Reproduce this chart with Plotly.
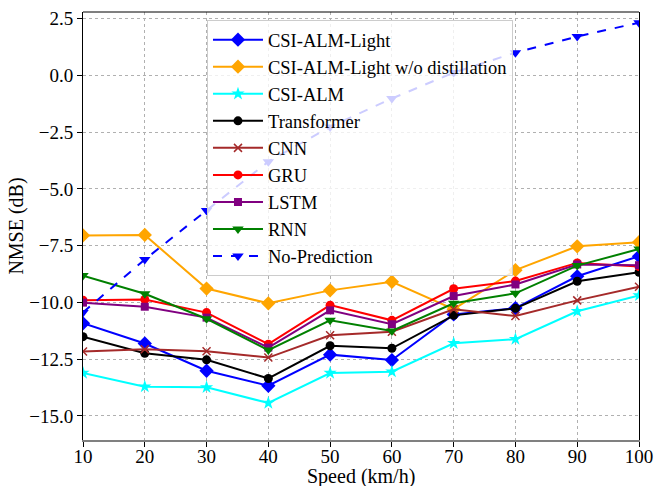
import plotly.graph_objects as go

speeds = [10, 20, 30, 40, 50, 60, 70, 80, 90, 100]

csi_alm_light = [-10.92, -11.81, -13.01, -13.67, -12.30, -12.54, -10.53, -10.25, -8.85, -7.97]
csi_alm_light_wo = [-7.05, -7.03, -9.39, -10.04, -9.47, -9.09, -10.30, -8.58, -7.53, -7.35]
csi_alm = [-13.11, -13.71, -13.74, -14.43, -13.11, -13.05, -11.80, -11.62, -10.39, -9.69]
transformer = [-11.51, -12.24, -12.53, -13.35, -11.91, -12.02, -10.57, -10.26, -9.07, -8.67]
cnn = [-12.16, -12.06, -12.15, -12.43, -11.45, -11.29, -10.30, -10.60, -9.91, -9.31]
gru = [-9.90, -9.87, -10.45, -11.84, -10.12, -10.79, -9.40, -9.06, -8.26, -8.42]
lstm = [-10.01, -10.19, -10.67, -11.99, -10.35, -10.96, -9.72, -9.21, -8.33, -8.36]
rnn = [-8.82, -9.62, -10.72, -12.10, -10.79, -11.26, -10.04, -9.60, -8.38, -7.65]
no_pred = [-10.44, -8.11, -5.95, -3.80, -2.27, -1.02, 0.12, 1.00, 1.71, 2.32]

y_ticks = [-15, -12.5, -10, -7.5, -5, -2.5, 0, 2.5]
x_title = "Speed (km/h)"
y_title = "NMSE (dB)"

series = [
    ("CSI-ALM-Light", csi_alm_light, "#0000ff", "diamond", "solid", 11),
    ("CSI-ALM-Light w/o distillation", csi_alm_light_wo, "#ffa500", "diamond", "solid", 11),
    ("CSI-ALM", csi_alm, "#00ffff", "star", "solid", 10),
    ("Transformer", transformer, "#000000", "circle", "solid", 9),
    ("CNN", cnn, "#a52a2a", "x-thin-open", "solid", 8),
    ("GRU", gru, "#ff0000", "circle", "solid", 9),
    ("LSTM", lstm, "#800080", "square", "solid", 8),
    ("RNN", rnn, "#008000", "triangle-down", "solid", 10),
    ("No-Prediction", no_pred, "#0000ff", "triangle-down", "dash", 10),
]

fig = go.Figure()
for name, vals, color, sym, dash, size in series:
    fig.add_trace(go.Scatter(
        x=speeds, y=vals, name=name, mode="lines+markers",
        line=dict(color=color, width=2, dash=dash),
        marker=dict(symbol=sym, size=size, color=color,
                    line=dict(color=color, width=1.5 if sym == "x-thin-open" else 0)),
    ))

font_family = "Liberation Serif, Times New Roman, serif"
fig.update_layout(
    width=654, height=486,
    margin=dict(l=83, r=15, t=12, b=46, autoexpand=False),
    paper_bgcolor="white", plot_bgcolor="white",
    font=dict(family=font_family, size=19, color="black"),
    showlegend=True,
    legend=dict(
        x=0.223, y=0.981, xanchor="left", yanchor="top",
        bgcolor="rgba(255,255,255,0.8)", bordercolor="#cccccc", borderwidth=1,
        font=dict(family=font_family, size=18.5, color="black"),
        itemwidth=50, tracegroupgap=0,
    ),
    xaxis=dict(
        range=[10, 100], tickmode="array", tickvals=speeds,
        showgrid=True, gridcolor="#b0b0b0", griddash="dot", gridwidth=1,
        showline=True, linecolor="#808080", linewidth=2, mirror=False,
        ticks="outside", ticklen=5, tickcolor="black",
        tickfont=dict(size=19), automargin=True, ticklabelstandoff=-7,
        zeroline=False,
    ),
    yaxis=dict(
        range=[-16.06, 2.79], tickmode="array", tickvals=y_ticks,
        tickformat=".1f",
        showgrid=True, gridcolor="#b0b0b0", griddash="dot", gridwidth=1,
        showline=True, linecolor="black", linewidth=1, mirror=True,
        ticks="outside", ticklen=5, tickcolor="black",
        tickfont=dict(size=19), automargin=True,
        title=dict(text=y_title, font=dict(size=20), standoff=0),
        zeroline=False,
    ),
    shapes=[dict(type="line", xref="paper", yref="paper", x0=0, x1=1, y0=1, y1=1,
                 line=dict(color="black", width=1))],
    annotations=[dict(text=x_title, xref="paper", yref="paper", x=0.5, y=-0.0864,
                      xanchor="center", yanchor="middle", showarrow=False,
                      font=dict(family=font_family, size=20, color="black"))],
)

fig.write_html("out.html")
